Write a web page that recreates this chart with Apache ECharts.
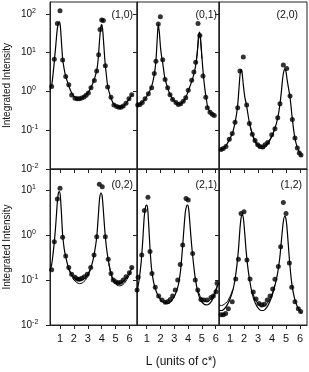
<!DOCTYPE html>
<html><head><meta charset="utf-8">
<script src="https://cdn.jsdelivr.net/npm/echarts@6/dist/echarts.min.js"></script>
<style>html,body{margin:0;padding:0;background:#fff}#c{width:309px;height:372px}</style>
</head><body><div id="c"></div><script>
// ---- data ----
const panelLabels = ['(1,0)', '(0,1)', '(2,0)', '(0,2)', '(2,1)', '(1,2)'];
const xTickValues = [1, 2, 3, 4, 5, 6];
const yTicksTop = [0.01, 0.1, 1, 10, 100];
const yTicksBottom = [0.01, 0.1, 1, 10];
const yAxisTitle = 'Integrated Intensity';
const xAxisTitle = 'L (units of c*)';

const data10 = [[0.40,1.35],[0.59,6.8],[0.81,57],[1.00,122],[1.19,6.5],[1.41,2.45],[1.63,1.5],[1.84,0.81],[2.08,0.67],[2.24,0.65],[2.39,0.65],[2.56,0.68],[2.73,0.72],[2.88,0.80],[3.04,0.92],[3.23,1.25],[3.47,1.93],[3.64,3.4],[3.78,8.9],[3.88,40],[4.00,70],[4.12,68],[4.26,4.6],[4.43,1.3],[4.67,0.71],[4.88,0.45],[5.08,0.41],[5.24,0.39],[5.39,0.39],[5.55,0.42],[5.75,0.50],[5.96,0.65],[6.16,0.82]];
const fit10 = [[0.28,1.1],[0.40,1.45],[0.50,2.8],[0.60,6.5],[0.70,16],[0.80,40],[0.88,58],[0.95,63],[1.02,50],[1.10,20],[1.19,7],[1.30,3.8],[1.41,2.5],[1.55,1.7],[1.70,1.2],[1.85,0.9],[2.0,0.75],[2.2,0.68],[2.4,0.66],[2.6,0.69],[2.8,0.78],[3.0,0.92],[3.2,1.2],[3.4,1.75],[3.55,2.6],[3.65,3.6],[3.75,7],[3.85,22],[3.93,45],[3.99,53],[4.06,42],[4.14,18],[4.22,7],[4.30,3.5],[4.43,1.4],[4.6,0.8],[4.8,0.52],[5.0,0.42],[5.2,0.39],[5.4,0.39],[5.6,0.43],[5.8,0.52],[6.0,0.66],[6.2,0.85]];
const fit10b = [];

const data01 = [[0.35,0.45],[0.51,0.46],[0.68,0.52],[0.88,0.65],[1.12,0.87],[1.36,1.25],[1.55,2.9],[1.67,6.0],[1.84,55],[1.99,85],[2.16,6.6],[2.33,2.05],[2.52,1.25],[2.69,0.82],[2.88,0.62],[3.12,0.52],[3.29,0.46],[3.46,0.48],[3.65,0.56],[3.83,0.69],[4.01,1.07],[4.26,1.94],[4.42,3.2],[4.55,5.7],[4.72,57],[4.85,28],[5.08,2.5],[5.28,0.71],[5.39,0.38],[5.59,0.29],[5.75,0.26],[5.90,0.24]];
const fit01 = [[0.30,0.44],[0.5,0.46],[0.7,0.53],[0.9,0.65],[1.1,0.85],[1.3,1.2],[1.45,1.8],[1.58,3.2],[1.68,7],[1.76,22],[1.84,55],[1.92,32],[2.0,14],[2.08,8],[2.16,5.5],[2.3,2.4],[2.5,1.3],[2.7,0.82],[2.9,0.62],[3.1,0.52],[3.3,0.47],[3.5,0.48],[3.7,0.58],[3.9,0.8],[4.1,1.25],[4.3,2.0],[4.45,3.1],[4.58,5.5],[4.68,12],[4.77,30],[4.84,34],[4.92,20],[5.0,8],[5.1,2.8],[5.2,1.3],[5.3,0.72],[5.42,0.4],[5.6,0.29],[5.8,0.25],[5.95,0.235]];
const fit01b = [[4.58,5.3],[4.68,11],[4.77,25],[4.84,28],[4.92,17],[5.0,7]];

const data20 = [[0.36,0.032],[0.52,0.034],[0.71,0.038],[0.95,0.059],[1.16,0.083],[1.36,0.16],[1.55,0.38],[1.71,3.4],[1.95,7.8],[2.19,0.45],[2.38,0.15],[2.59,0.079],[2.79,0.054],[2.98,0.042],[3.14,0.038],[3.34,0.037],[3.50,0.042],[3.69,0.048],[3.98,0.076],[4.21,0.11],[4.41,0.21],[4.57,0.48],[4.81,4.8],[5.05,3.9],[5.29,0.76],[5.45,0.19],[5.64,0.063],[5.81,0.035],[5.95,0.026],[6.07,0.023]];
const fit20 = [[0.22,0.031],[0.4,0.032],[0.6,0.035],[0.8,0.045],[1.0,0.06],[1.2,0.09],[1.35,0.15],[1.48,0.28],[1.58,0.6],[1.66,1.5],[1.73,3.0],[1.80,3.7],[1.87,2.9],[1.95,1.5],[2.05,0.75],[2.19,0.42],[2.38,0.16],[2.6,0.08],[2.8,0.053],[3.0,0.042],[3.2,0.038],[3.4,0.038],[3.6,0.043],[3.8,0.054],[4.0,0.072],[4.2,0.11],[4.4,0.2],[4.55,0.42],[4.67,1.0],[4.77,2.3],[4.86,3.5],[4.93,3.8],[5.0,3.2],[5.1,1.8],[5.2,1.1],[5.3,0.65],[5.45,0.2],[5.6,0.075],[5.8,0.036],[6.0,0.025],[6.12,0.021]];
const fit20b = [[2.4,0.15],[2.6,0.075],[2.8,0.048],[3.0,0.038],[3.2,0.034],[3.4,0.034],[3.6,0.039],[3.8,0.05],[4.0,0.07],[4.2,0.11]];

const data02 = [[0.40,0.17],[0.59,0.71],[0.81,6.3],[1.00,11],[1.19,0.89],[1.41,0.34],[1.63,0.19],[1.84,0.135],[2.08,0.115],[2.24,0.105],[2.39,0.104],[2.56,0.11],[2.75,0.118],[2.96,0.134],[3.21,0.19],[3.45,0.36],[3.64,0.91],[3.83,13.5],[4.04,11.8],[4.26,0.91],[4.47,0.29],[4.67,0.14],[4.83,0.10],[5.01,0.092],[5.19,0.087],[5.37,0.089],[5.55,0.10],[5.75,0.118],[5.99,0.145],[6.16,0.19]];
const fit02 = [[0.28,0.16],[0.4,0.22],[0.5,0.38],[0.6,0.75],[0.7,1.8],[0.8,5],[0.88,8.5],[0.95,9.2],[1.02,7.5],[1.1,3.2],[1.19,1.0],[1.3,0.5],[1.41,0.33],[1.6,0.19],[1.8,0.14],[2.0,0.115],[2.2,0.102],[2.4,0.097],[2.6,0.1],[2.8,0.11],[3.0,0.135],[3.2,0.18],[3.4,0.3],[3.55,0.55],[3.65,0.95],[3.75,2.5],[3.85,6.5],[3.95,8.5],[4.03,7.5],[4.12,3.5],[4.22,1.3],[4.35,0.5],[4.5,0.25],[4.7,0.13],[4.9,0.095],[5.1,0.085],[5.3,0.083],[5.5,0.09],[5.7,0.105],[5.9,0.13],[6.1,0.165],[6.2,0.19]];
const fit02b = [[1.6,0.18],[1.8,0.13],[2.0,0.1],[2.2,0.088],[2.4,0.083],[2.6,0.086],[2.8,0.097],[3.0,0.12],[3.2,0.17],null,[4.5,0.24],[4.7,0.12],[4.9,0.087],[5.1,0.077],[5.3,0.074],[5.5,0.078],[5.7,0.09],[5.9,0.115],[6.1,0.15]];

const data21 = [[0.30,0.06],[0.38,0.115],[0.64,0.36],[0.83,3.5],[1.09,6.9],[1.24,0.43],[1.38,0.14],[1.62,0.069],[1.87,0.044],[2.11,0.036],[2.35,0.032],[2.52,0.033],[2.71,0.037],[2.88,0.044],[3.07,0.06],[3.25,0.10],[3.43,0.22],[3.61,0.6],[3.85,6.5],[4.01,6.0],[4.33,0.39],[4.52,0.10],[4.70,0.06],[4.93,0.037],[5.13,0.036],[5.37,0.036],[5.66,0.041],[5.83,0.044],[6.02,0.055],[6.10,0.085]];
const fit21 = [[0.30,0.055],[0.45,0.1],[0.6,0.25],[0.72,0.8],[0.82,2.5],[0.92,4.3],[1.0,4.6],[1.07,3.8],[1.15,1.6],[1.24,0.5],[1.35,0.18],[1.5,0.09],[1.7,0.055],[1.9,0.041],[2.1,0.034],[2.3,0.031],[2.5,0.03],[2.7,0.032],[2.9,0.038],[3.1,0.05],[3.3,0.08],[3.45,0.16],[3.58,0.45],[3.7,1.4],[3.8,3.2],[3.9,4.5],[3.96,4.6],[4.04,3.8],[4.12,2.0],[4.22,0.8],[4.33,0.35],[4.5,0.12],[4.7,0.055],[4.9,0.036],[5.1,0.03],[5.3,0.028],[5.5,0.029],[5.7,0.034],[5.9,0.045],[6.1,0.07],[6.2,0.085]];
const fit21b = [[4.7,0.06],[4.9,0.042],[5.1,0.035],[5.3,0.033],[5.5,0.034],[5.7,0.039],[5.9,0.05],[6.1,0.075]];

const data12 = [[0.36,0.017],[0.52,0.017],[0.69,0.018],[0.88,0.023],[1.16,0.033],[1.41,0.105],[1.60,0.29],[1.79,3.0],[2.00,3.3],[2.21,0.28],[2.43,0.105],[2.66,0.054],[2.86,0.038],[3.07,0.030],[3.26,0.028],[3.45,0.029],[3.66,0.036],[3.86,0.044],[4.05,0.063],[4.21,0.104],[4.45,0.20],[4.62,0.55],[4.81,5.3],[5.00,3.0],[5.24,0.24],[5.41,0.069],[5.64,0.033],[5.88,0.023],[6.05,0.020]];
const fit12 = [[0.22,0.021],[0.4,0.021],[0.6,0.023],[0.8,0.028],[1.0,0.038],[1.2,0.058],[1.35,0.1],[1.5,0.22],[1.62,0.55],[1.72,1.5],[1.8,2.5],[1.88,2.8],[1.96,2.3],[2.05,1.1],[2.15,0.45],[2.25,0.22],[2.4,0.1],[2.6,0.048],[2.8,0.031],[3.0,0.024],[3.2,0.021],[3.4,0.021],[3.6,0.024],[3.8,0.031],[4.0,0.044],[4.2,0.073],[4.4,0.14],[4.55,0.3],[4.68,0.8],[4.8,1.9],[4.9,2.6],[4.97,2.5],[5.05,1.7],[5.15,0.7],[5.25,0.27],[5.4,0.09],[5.6,0.04],[5.8,0.026],[6.0,0.02],[6.1,0.018]];
const fit12b = [[0.22,0.028],[0.4,0.027],[0.6,0.029],[0.8,0.033],[1.0,0.043],[1.2,0.062],null,[2.6,0.055],[2.8,0.037],[3.0,0.03],[3.2,0.026],[3.4,0.026],[3.6,0.029],[3.8,0.036],[4.0,0.049],[4.2,0.078]];

const panelData = [data10, data01, data20, data02, data21, data12];
const panelFits = [fit10, fit01, fit20, fit02, fit21, fit12];
const panelFitsB = [fit10b, fit01b, fit20b, fit02b, fit21b, fit12b];

// ---- layout ----
const FONT = 'Liberation Sans, Arial, sans-serif';
const cols = [{left: 50, width: 87, min: 0.28, max: 6.54},
              {left: 137, width: 82, min: 0.297, max: 6.24},
              {left: 219, width: 88, min: 0.214, max: 6.5}];
const rows = [{top: 2, height: 167, max: 204, ticks: yTicksTop},
              {top: 169, height: 156, max: 29.3, ticks: yTicksBottom}];
const labelPos = [[133, 15], [217, 15], [298, 15], [133, 185], [217, 185], [302, 185]];

const grids = [], xAxes = [], yAxes = [], series = [], graphics = [];
function splitSegments(arr) {
  const segs = [[]];
  arr.forEach(p => { if (p === null) segs.push([]); else segs[segs.length - 1].push(p); });
  return segs.filter(s => s.length);
}
for (let r = 0; r < 2; r++) {
  for (let c = 0; c < 3; c++) {
    const i = r * 3 + c;
    const col = cols[c], row = rows[r];
    grids.push({left: col.left, top: row.top, width: col.width, height: row.height,
      show: true, borderColor: '#222', borderWidth: 1, backgroundColor: 'transparent',
      containLabel: false, outerBoundsMode: 'none'});
    xAxes.push({type: 'value', gridIndex: i, min: col.min, max: col.max,
      axisLine: {show: true, lineStyle: {color: '#222', width: 1}},
      axisTick: {show: true, length: 4, inside: false, customValues: xTickValues, lineStyle: {color: '#222'}},
      axisLabel: {show: r === 1, customValues: xTickValues, margin: 8, fontSize: 11, color: '#111', fontFamily: FONT},
      splitLine: {show: false}});
    yAxes.push({type: 'log', logBase: 10, gridIndex: i, min: 0.01, max: row.max,
      axisLine: {show: true, lineStyle: {color: '#222', width: 1}},
      axisTick: {show: true, length: 4, inside: false, customValues: row.ticks, lineStyle: {color: '#222'}},
      axisLabel: {show: c === 0, customValues: row.ticks, align: 'left', margin: 29, color: '#111',
        formatter: v => '{b|10}{s|' + Math.round(Math.log10(v)) + '}',
        rich: {b: {fontSize: 10, fontFamily: FONT, color: '#111'},
               s: {fontSize: 7, fontFamily: FONT, color: '#111', verticalAlign: 'top', padding: [0, 0, 6, 0]}}},
      splitLine: {show: false},
      name: c === 0 ? yAxisTitle : '', nameLocation: 'middle', nameGap: 38, nameRotate: 90,
      nameTextStyle: {fontSize: 10, fontFamily: FONT, color: '#111'}});
    series.push({type: 'line', xAxisIndex: i, yAxisIndex: i, data: panelFits[i], smooth: 0.25,
      symbol: 'none', lineStyle: {color: '#000', width: 1.2}, z: 2, silent: true});
    splitSegments(panelFitsB[i]).forEach(seg => series.push({type: 'line', xAxisIndex: i, yAxisIndex: i,
      data: seg, smooth: 0.25, symbol: 'none', lineStyle: {color: '#000', width: 1}, z: 2, silent: true}));
    series.push({type: 'scatter', xAxisIndex: i, yAxisIndex: i, data: panelData[i], symbol: 'circle',
      symbolSize: 5, itemStyle: {color: '#000'}, z: 3, silent: true});
    graphics.push({type: 'text', x: labelPos[i][0], y: labelPos[i][1],
      style: {text: panelLabels[i], fill: '#111', font: '10.5px ' + FONT, textAlign: 'right', textVerticalAlign: 'middle'}});
  }
}
graphics.push({type: 'text', x: 181, y: 362,
  style: {text: xAxisTitle, fill: '#111', font: '12px ' + FONT, textAlign: 'center', textVerticalAlign: 'middle'}});

const chart = echarts.init(document.getElementById('c'), null, {renderer: 'canvas'});
chart.setOption({animation: false, backgroundColor: '#fff', grid: grids, xAxis: xAxes, yAxis: yAxes,
  series: series, graphic: graphics});
</script></body></html>
